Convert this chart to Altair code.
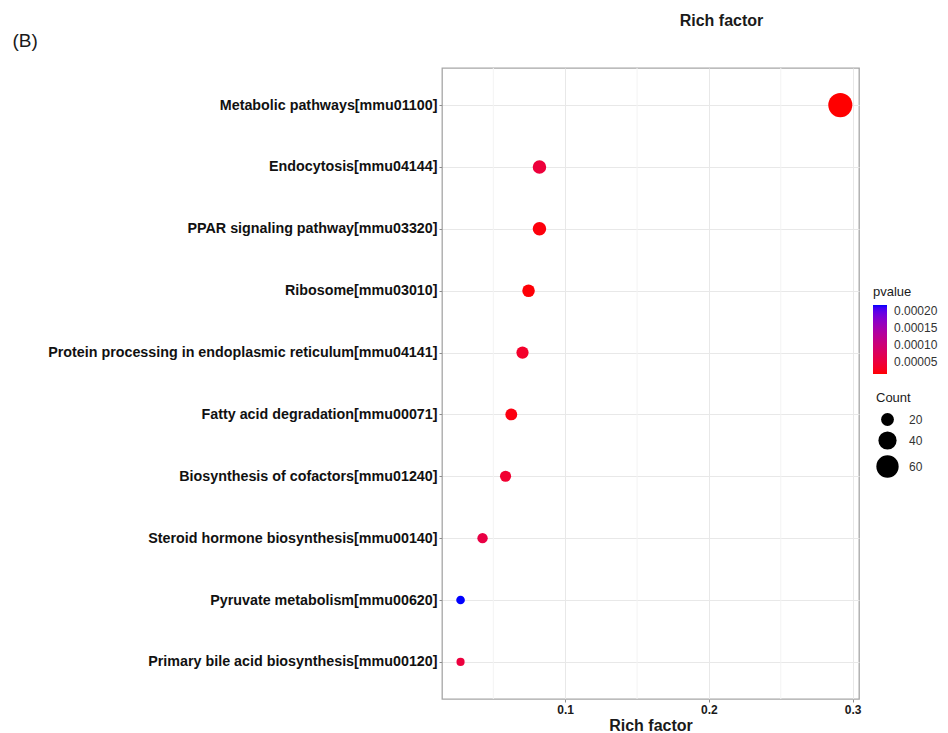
import altair as alt
import pandas as pd

# KEGG enrichment results
pathways = [
    "Metabolic pathways[mmu01100]",
    "Endocytosis[mmu04144]",
    "PPAR signaling pathway[mmu03320]",
    "Ribosome[mmu03010]",
    "Protein processing in endoplasmic reticulum[mmu04141]",
    "Fatty acid degradation[mmu00071]",
    "Biosynthesis of cofactors[mmu01240]",
    "Steroid hormone biosynthesis[mmu00140]",
    "Pyruvate metabolism[mmu00620]",
    "Primary bile acid biosynthesis[mmu00120]",
]
rich_factor = [0.2914, 0.0821, 0.0821, 0.0745, 0.0703, 0.0625, 0.0585, 0.0425, 0.0272, 0.0272]
counts = [70, 22, 22, 19, 18, 17, 15, 13, 9, 8]
pvalues = [1.4e-5, 4.8e-5, 1.8e-5, 1.6e-5, 3.5e-5, 2.0e-5, 4.0e-5, 5.5e-5, 2.18e-4, 5.0e-5]

minor_ticks = [0.05, 0.15, 0.25]
major_ticks = [0.1, 0.2, 0.3]

df = pd.DataFrame({
    "pathway": pathways,
    "rich": rich_factor,
    "Count": counts,
    "pvalue": pvalues,
})
minor_df = pd.DataFrame({"x": minor_ticks})

FONT = "Liberation Sans"
W, H = 417, 631
LEFT, TOP = 442, 68

x_scale = alt.Scale(domain=[0.0143, 0.3044], nice=False, zero=False)

minor_grid = alt.Chart(minor_df).mark_rule(color="#f3f3f3", strokeWidth=1).encode(
    x=alt.X("x:Q", scale=x_scale)
)

points = alt.Chart(df).mark_circle(opacity=1).encode(
    x=alt.X(
        "rich:Q",
        scale=x_scale,
        axis=alt.Axis(
            values=major_ticks,
            format=".1f",
            title="Rich factor",
            titleFontSize=16,
            titleFontWeight="bold",
            titleColor="#1a1a1a",
            titlePadding=2,
            labelFontSize=12,
            labelFontWeight="bold",
            labelColor="#1a1a1a",
            labelPadding=2,
            tickSize=3,
            tickColor="#8c8c8c",
            grid=True,
            gridColor="#e8e8e8",
            domain=False,
        ),
    ),
    y=alt.Y(
        "pathway:N",
        sort=pathways,
        scale=alt.Scale(padding=0.6),
        axis=alt.Axis(
            title="(B)",
            titleAngle=0,
            titleAlign="left",
            titleBaseline="alphabetic",
            titleX=12 - LEFT,
            titleY=46 - TOP,
            titleFontSize=19,
            titleFontWeight="normal",
            titleColor="#1a1a1a",
            labelFontSize=14.3,
            labelFontWeight="bold",
            labelColor="#111111",
            labelPadding=2,
            labelLimit=0,
            tickSize=3,
            tickColor="#8c8c8c",
            grid=True,
            gridColor="#e8e8e8",
            domain=False,
        ),
    ),
    color=alt.Color(
        "pvalue:Q",
        scale=alt.Scale(
            domain=[min(pvalues), max(pvalues)],
            range=["#FF0000", "#0000FF"],
            interpolate="lab",
        ),
        legend=alt.Legend(
            title="pvalue",
            orient="none",
            legendX=431,
            legendY=218,
            values=[0.00005, 0.0001, 0.00015, 0.0002],
            format=".5f",
            gradientLength=69,
            gradientThickness=14,
            gradientStrokeWidth=0,
            labelOffset=7,
            titlePadding=6,
        ),
    ),
    size=alt.Size(
        "Count:Q",
        scale=alt.Scale(domain=[0, 70], range=[0, 580], zero=True),
        legend=alt.Legend(
            title="Count",
            orient="none",
            legendX=434,
            legendY=324,
            values=[20, 40, 60],
            symbolFillColor="black",
            symbolStrokeWidth=0,
            symbolType="circle",
            labelOffset=10,
            rowPadding=5,
            titlePadding=8,
        ),
    ),
)

chart = (
    alt.layer(minor_grid, points)
    .properties(
        width=W,
        height=H,
        autosize=alt.AutoSizeParams(type="none"),
        padding={"left": LEFT, "top": TOP, "right": 948 - LEFT - W, "bottom": 733 - TOP - H},
        title=alt.TitleParams(
            "Rich factor",
            anchor="middle",
            dx=71,
            offset=2,
            fontSize=16,
            fontWeight="bold",
            font=FONT,
            color="#1a1a1a",
        ),
        background="white",
    )
    .configure_view(stroke="#a6a6a6", strokeWidth=1.3)
    .configure_axis(labelFont=FONT, titleFont=FONT)
    .configure_legend(
        labelFont=FONT,
        titleFont=FONT,
        titleFontSize=13,
        titleFontWeight="normal",
        titleColor="#1a1a1a",
        labelFontSize=12,
        labelColor="#333333",
    )
)

chart.save("out.html", embed_options={"renderer": "svg", "actions": False})
